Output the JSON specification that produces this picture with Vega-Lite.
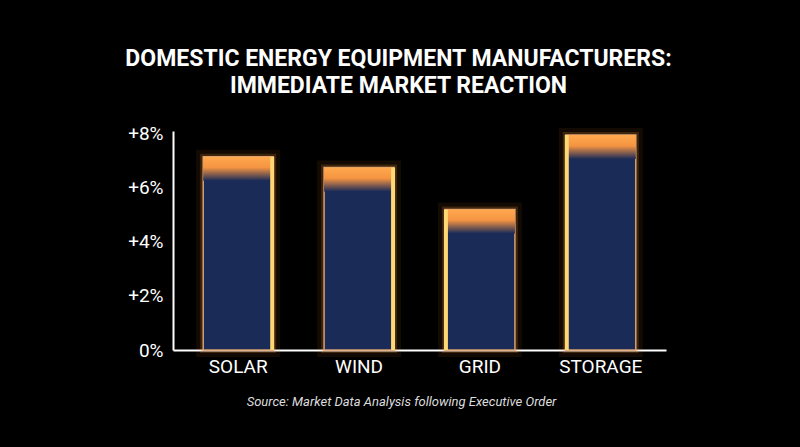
{
  "$schema": "https://vega.github.io/schema/vega-lite/v6.json",
  "autosize": {"type": "none"},
  "width": 493,
  "height": 219,
  "padding": {"left": 173, "top": 131, "right": 134, "bottom": 97},
  "background": "#000000",
  "config": {"view": {"stroke": null}},
  "title": {
    "text": ["DOMESTIC ENERGY EQUIPMENT MANUFACTURERS:", "IMMEDIATE MARKET REACTION"],
    "font": "Roboto",
    "fontWeight": "bold",
    "fontSize": 23,
    "lineHeight": 27,
    "color": "#ffffff",
    "anchor": "middle",
    "dx": -21,
    "offset": 27
  },
  "data": {
    "values": [
      {"sector": "SOLAR", "change": 7.15},
      {"sector": "WIND", "change": 6.75},
      {"sector": "GRID", "change": 5.2},
      {"sector": "STORAGE", "change": 7.95}
    ]
  },
  "encoding": {
    "x": {
      "field": "sector",
      "type": "nominal",
      "sort": null,
      "scale": {"paddingInner": 0.4208, "paddingOuter": 0.25},
      "axis": {
        "labelAngle": 0,
        "labelFont": "Roboto",
        "labelFontSize": 19,
        "labelColor": "#ffffff",
        "labelPadding": 7,
        "ticks": false,
        "domainColor": "#ffffff",
        "domainWidth": 2,
        "title": "Source: Market Data Analysis following Executive Order",
        "titleFont": "Roboto",
        "titleFontStyle": "italic",
        "titleFontWeight": "normal",
        "titleFontSize": 13,
        "titleColor": "#dddddd",
        "titleX": 228,
        "titleY": 45
      }
    },
    "y": {
      "field": "change",
      "type": "quantitative",
      "scale": {"domain": [0, 8.1], "nice": false},
      "axis": {
        "values": [0, 2, 4, 6, 8],
        "labelExpr": "datum.value == 0 ? '0%' : '+' + datum.value + '%'",
        "labelFont": "Roboto",
        "labelFontSize": 19,
        "labelColor": "#ffffff",
        "labelPadding": 10,
        "ticks": false,
        "grid": false,
        "domainColor": "#ffffff",
        "domainWidth": 2,
        "title": null
      }
    }
  },
  "layer": [
    {
      "mark": {"type": "bar", "fill": "#ff8a2a", "fillOpacity": 0, "stroke": "#ff8a2a", "strokeOpacity": 0.07, "strokeWidth": 14}
    },
    {
      "mark": {"type": "bar", "fill": "#ff9a3c", "fillOpacity": 0, "stroke": "#ff9a3c", "strokeOpacity": 0.18, "strokeWidth": 6}
    },
    {
      "mark": {"type": "bar", "fill": "#1b2b58", "stroke": "#d9a070", "strokeWidth": 1.5}
    },
    {
      "mark": {
        "type": "tick",
        "thickness": 24,
        "yOffset": 12,
        "size": 70,
        "filled": true,
        "opacity": 1,
        "fill": {
          "gradient": "linear",
          "x1": 0, "y1": 0, "x2": 0, "y2": 1,
          "stops": [
            {"offset": 0, "color": "#ffa94f"},
            {"offset": 0.45, "color": "#f59442"},
            {"offset": 1, "color": "#1b2b58"}
          ]
        }
      }
    },
    {
      "transform": [{"filter": "datum.sector == 'SOLAR' || datum.sector == 'WIND'"}],
      "mark": {"type": "rule", "color": "#ffd773", "strokeWidth": 4, "xOffset": 34},
      "encoding": {"y2": {"datum": 0}}
    },
    {
      "transform": [{"filter": "datum.sector == 'GRID' || datum.sector == 'STORAGE'"}],
      "mark": {"type": "rule", "color": "#ffd773", "strokeWidth": 4, "xOffset": -34},
      "encoding": {"y2": {"datum": 0}}
    }
  ]
}
